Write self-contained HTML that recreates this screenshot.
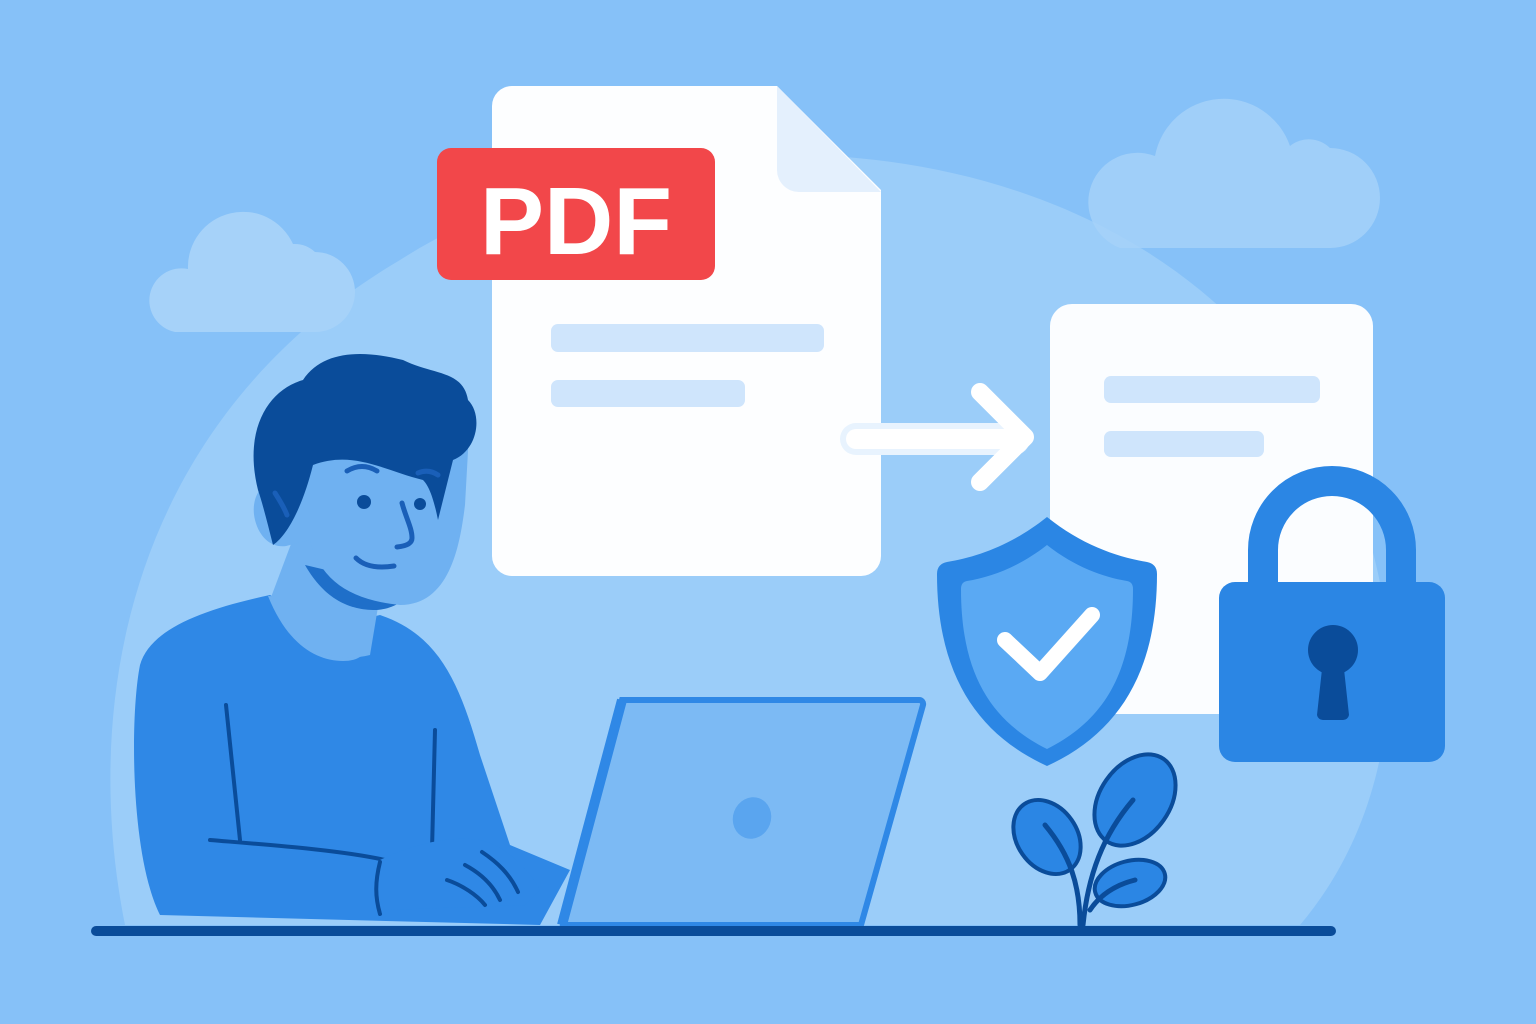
<!DOCTYPE html>
<html><head><style>html,body{margin:0;padding:0;background:#86c1f8;width:1536px;height:1024px;overflow:hidden}svg{display:block}</style></head>
<body>
<svg width="1536" height="1024" viewBox="0 0 1536 1024" xmlns="http://www.w3.org/2000/svg">
<rect width="1536" height="1024" fill="#86c1f8"/>
<path d="M125 925 C80 700 130 420 400 260 C620 120 980 110 1200 290 C1420 470 1440 760 1300 925 Z" fill="#9bcdf9"/>
<!-- clouds -->
<g fill="#a6d2f9">
<path d="M175 332 h140 a40 40 0 0 0 0-80 a30 30 0 0 0-22-8 a55 55 0 0 0-105 25 a30 30 0 0 0-13 63z"/>
<path d="M1120 248 h210 a45 45 0 0 0 0-100 a30 30 0 0 0-40-2 a70 70 0 0 0-135 10 a45 45 0 0 0-35 92z" opacity=".8"/>
</g>
<!-- big doc -->
<path d="M512 86 h265 l104 104 v366 a20 20 0 0 1-20 20 h-349 a20 20 0 0 1-20-20 v-450 a20 20 0 0 1 20-20z" fill="#fdfeff"/>
<path d="M777 86 v84 a22 22 0 0 0 22 22 h82z" fill="#e4f0fd"/>
<rect x="551" y="324" width="273" height="28" rx="7" fill="#cfe5fc"/>
<rect x="551" y="380" width="194" height="27" rx="7" fill="#cfe5fc"/>
<rect x="437" y="148" width="278" height="132" rx="14" fill="#f2474a"/>
<text x="576" y="254" text-anchor="middle" font-family="Liberation Sans, sans-serif" font-weight="bold" font-size="96" fill="#fff">PDF</text>
<!-- arrow -->
<rect x="840" y="423" width="190" height="32" rx="16" fill="#e8f3fe"/>
<rect x="846" y="429" width="180" height="20" rx="10" fill="#fff"/>
<path d="M980 392 l45 45 l-45 45" fill="none" stroke="#fff" stroke-width="18" stroke-linecap="round" stroke-linejoin="round"/>
<!-- right doc -->
<rect x="1050" y="304" width="323" height="410" rx="22" fill="#fbfdff"/>
<rect x="1104" y="376" width="216" height="27" rx="7" fill="#cfe5fc"/>
<rect x="1104" y="431" width="160" height="26" rx="7" fill="#cfe5fc"/>
<!-- lock -->
<path d="M1263 590 v-40 a69 69 0 0 1 138 0 v40" fill="none" stroke="#2b86e4" stroke-width="30"/>
<rect x="1219" y="582" width="226" height="180" rx="16" fill="#2b86e4"/>
<circle cx="1333" cy="650" r="25" fill="#0a4c9a"/>
<path d="M1323 660 h20 l6 55 a6 6 0 0 1-6 5 h-20 a6 6 0 0 1-6-5z" fill="#0a4c9a"/>
<!-- shield -->
<path d="M1047 517 c35 28 70 40 100 45 q10 2 10 12 c0 100-40 160-110 192 c-70-32-110-92-110-192 q0-10 10-12 c30-5 65-17 100-45z" fill="#2b86e4"/>
<path d="M1047 545 c28 22 56 32 80 36 q6 1 6 8 c0 85-30 132-86 160 c-56-28-86-75-86-160 q0-7 6-8 c24-4 52-14 80-36z" fill="#5aa9f3"/>
<path d="M1005 640 l35 33 l52-58" fill="none" stroke="#fff" stroke-width="16" stroke-linecap="round" stroke-linejoin="round"/>
<!-- plant -->
<g fill="#2b86e4" stroke="#0a4c9a" stroke-width="4">
<ellipse cx="1047" cy="837" rx="30" ry="40" transform="rotate(-35 1047 837)"/>
<ellipse cx="1135" cy="800" rx="35" ry="50" transform="rotate(35 1135 800)"/>
<ellipse cx="1130" cy="883" rx="36" ry="22" transform="rotate(-15 1130 883)"/>
</g>
<path d="M1080 925 c0-40-10-70-35-100 M1083 925 c5-50 20-90 50-125 M1090 910 c10-15 25-25 45-30" fill="none" stroke="#0a4c9a" stroke-width="5" stroke-linecap="round"/>
<!-- person body -->
<path d="M160 915 c-30-60-30-200-20-250 c10-35 60-55 130-70 c50 30 70 30 110 20 c60 20 80 70 100 140 l30 90 l60 25 l-30 55 z" fill="#2f88e6"/>
<path d="M268 596 c20 50 50 65 75 65 c20 0 30-10 30-45 c-30 0-70-20-105-20z" fill="#6fb1f1"/>
<path d="M226 705 l14 135 M435 730 l-3 120 M210 840 c60 5 130 10 175 20" fill="none" stroke="#0a4c9a" stroke-width="4" stroke-linecap="round"/>
<!-- neck & head -->
<path d="M300 520 l-30 80 c20 45 60 65 100 55 l10-60z" fill="#6fb1f1"/>
<path d="M305 565 c20 35 45 45 70 45 c10 0 30-5 35-20 l-20-5z" fill="#1f6fc9"/>
<path d="M280 480 c-20 0-30 20-25 40 c5 20 20 30 35 25 l20-5 c10 40 40 60 90 65 c50 0 60-60 65-100 l5-90 l-170 0z" fill="#6fb1f1"/>
<path d="M258 490 c-15-60 10-100 45-110 c20-30 60-30 100-20 c30 15 60 10 65 40 c15 15 10 50-15 60 l-15 60 c-5-25-10-35-15-40 c-40-10-70-30-110-15 c-10 40-25 70-40 80 c-5-20-10-40-15-55z" fill="#0a4c9a"/>
<g fill="none" stroke="#1a5fb8" stroke-width="5" stroke-linecap="round">
<path d="M347 471 c10-6 20-6 30 0 M418 473 c7-3 14-2 20 2 M402 503 c4 15 10 25 10 35 c0 5-5 8-15 9 M356 558 c10 10 25 10 38 8 M275 493 c5 8 9 14 12 22"/>
</g>
<circle cx="364" cy="502" r="7" fill="#0a4c9a"/>
<circle cx="420" cy="504" r="6" fill="#0a4c9a"/>
<!-- laptop -->
<path d="M622 700 h297 a4 4 0 0 1 4 5 l-62 220 h-298 z" fill="#7cbaf4" stroke="#2f88e6" stroke-width="6"/>
<path d="M622 700 l-60 225" stroke="#2f88e6" stroke-width="10"/>
<ellipse cx="752" cy="818" rx="19" ry="21" fill="#5aa5ef" transform="rotate(20 752 818)"/>
<!-- hand -->
<path d="M380 860 c30-15 70-25 100-20 c25 5 50 30 60 50 l-15 15 l-140 5 c-10-20-10-40-5-50z" fill="#2f88e6"/>
<path d="M447 880 c15 5 30 15 38 25 M465 865 c15 8 28 20 35 35 M482 852 c15 10 28 22 36 40 M380 862 c-5 20-5 35 0 52" fill="none" stroke="#0a4c9a" stroke-width="4" stroke-linecap="round"/>
<!-- desk -->
<rect x="91" y="926" width="1245" height="10" rx="5" fill="#0a4c9a"/>
</svg>
</body></html>
